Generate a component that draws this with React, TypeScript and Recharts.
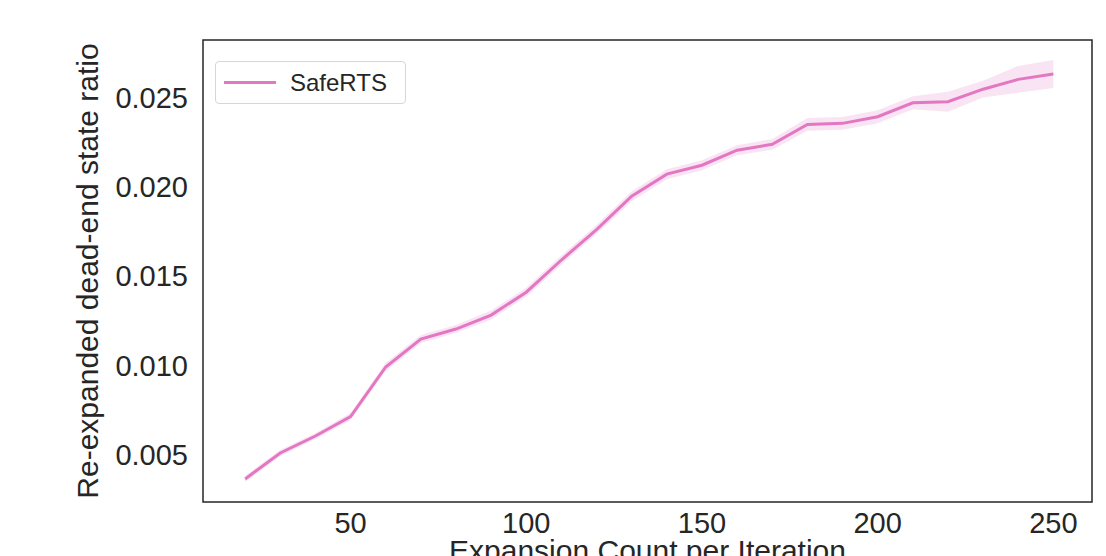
import {
  Area,
  ComposedChart,
  Label,
  Line,
  ReferenceArea,
  XAxis,
  YAxis,
} from 'recharts'

const expansions = [20, 30, 40, 50, 60, 70, 80, 90, 100, 110, 120, 130, 140, 150, 160, 170, 180, 190, 200, 210, 220, 230, 240, 250]
const ratioMean = [
  0.00366, 0.00511, 0.00606, 0.00715, 0.00992, 0.01148, 0.01204, 0.01282, 0.0141, 0.0159, 0.0176, 0.01947,
  0.0207, 0.0212, 0.02204, 0.02237, 0.02348, 0.02354, 0.02391, 0.02469, 0.02475, 0.02545, 0.026, 0.0263,
]
const ratioErr = [
  0.00017, 0.00017, 0.00017, 0.0002, 0.00022, 0.00022, 0.00022, 0.00025, 0.00025, 0.00025, 0.00025, 0.00028,
  0.00028, 0.00028, 0.00028, 0.0003, 0.00036, 0.00036, 0.00036, 0.00036, 0.00056, 0.00047, 0.00075, 0.00078,
]
const xTicks = [50, 100, 150, 200, 250]
const yTicks = [0.005, 0.01, 0.015, 0.02, 0.025]
const xDomain = [8, 261]
const yDomain = [0.00237, 0.0282]
const seriesName = 'SafeRTS'

const data = expansions.map((x, i) => ({
  x,
  mean: ratioMean[i],
  band: [ratioMean[i] - ratioErr[i], ratioMean[i] + ratioErr[i]],
}))

const pink = '#e377c2'
const ink = '#262626'
const font = '"Liberation Sans", Arial, sans-serif'

// legend drawn as an overlay so it doesn't push the plot area down
const LegendBox = () => (
  <div
    style={{
      position: 'absolute',
      left: 215,
      top: 61,
      width: 189,
      height: 41,
      border: '1px solid #d6d6d6',
      borderRadius: 4,
      background: '#fff',
      display: 'flex',
      alignItems: 'center',
      fontFamily: font,
      fontSize: 24,
      color: ink,
    }}
  >
    <span style={{ display: 'inline-block', width: 52, height: 3, background: pink, marginLeft: 8, marginRight: 14 }} />
    <span>{seriesName}</span>
  </div>
)

export default function App() {
  return (
    <div style={{ position: 'fixed', left: 0, top: 0, width: 1106, height: 556, background: '#fff' }}>
      <ComposedChart
        width={1106}
        height={556}
        data={data}
        margin={{ top: 40, right: 14, left: 0, bottom: 0 }}
        style={{ fontFamily: font }}
      >
        <XAxis
          dataKey="x"
          type="number"
          domain={xDomain}
          ticks={xTicks}
          height={54}
          tickLine={false}
          tickSize={0}
          tickMargin={10}
          axisLine={false}
          tick={{ fill: ink, fontSize: 29 }}
        >
          <Label
            value="Expansion Count per Iteration"
            position="insideBottom"
            offset={-5}
            style={{ fill: ink, fontSize: 30 }}
          />
        </XAxis>
        <YAxis
          type="number"
          domain={yDomain}
          ticks={yTicks}
          width={203}
          tickLine={false}
          tickSize={0}
          tickMargin={15}
          axisLine={false}
          tickFormatter={(v: number) => v.toFixed(3)}
          tick={{ fill: ink, fontSize: 29 }}
        >
          <Label
            content={({ viewBox }: any) => (
              <text
                x={87}
                y={viewBox.y + viewBox.height / 2}
                transform={`rotate(-90, 87, ${viewBox.y + viewBox.height / 2})`}
                textAnchor="middle"
                dominantBaseline="central"
                fill={ink}
                fontSize={30}
              >
                Re-expanded dead-end state ratio
              </text>
            )}
          />
        </YAxis>
        <Area
          dataKey="band"
          stroke="none"
          fill={pink}
          fillOpacity={0.2}
          isAnimationActive={false}
          legendType="none"
        />
        <Line
          dataKey="mean"
          name={seriesName}
          stroke={pink}
          strokeWidth={3}
          dot={false}
          isAnimationActive={false}
        />
        <ReferenceArea
          x1={xDomain[0]}
          x2={xDomain[1]}
          y1={yDomain[0]}
          y2={yDomain[1]}
          fill="none"
          stroke={ink}
          strokeWidth={1.5}
        />
      </ComposedChart>
      <LegendBox />
    </div>
  )
}
